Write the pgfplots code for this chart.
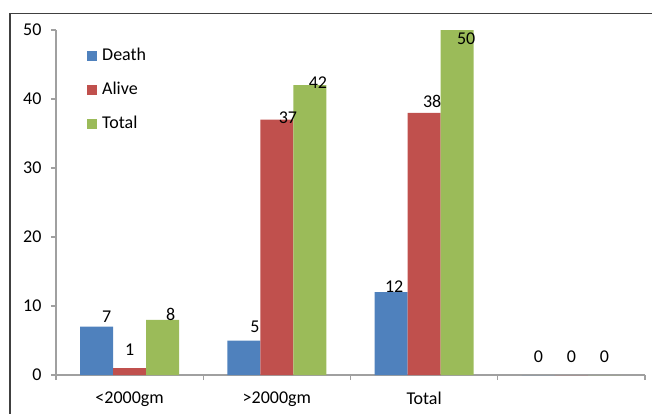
\documentclass[border=0pt]{standalone}
\usepackage{fontspec}
\setmainfont{Carlito}
\usepackage{pgfplots}
\pgfplotsset{compat=1.18}

\definecolor{deathblue}{RGB}{79,129,189}
\definecolor{alivered}{RGB}{192,80,77}
\definecolor{totalgreen}{RGB}{155,187,89}
\definecolor{axisgray}{RGB}{160,160,160}
\definecolor{framegray}{RGB}{64,64,64}
\newcommand{\chartfont}{\fontsize{18bp}{22bp}\selectfont}

% x = category, y = value, dx/dy = label offset in bp
\pgfplotstableread{
x y dx dy
0 7 10 10
1 5 11 14
2 12 3 6
3 0 0 18
}\death
\pgfplotstableread{
x y dx dy
0 1 0 18
1 37 11 2
2 38 8 11
3 0 0 18
}\alive
\pgfplotstableread{
x y dx dy
0 8 8 5
1 42 8 3
2 50 9 -9
3 0 0 18
}\total

\begin{document}
\begin{tikzpicture}
\useasboundingbox (0,0) rectangle (652bp,-414bp);
\draw[framegray, line width=1.2bp] (10bp,-414bp) -- (10bp,-13.5bp) -- (652bp,-13.5bp);
\begin{axis}[
    at={(56bp,-375bp)},
    anchor=south west,
    scale only axis,
    width=589bp,
    height=345bp,
    xmin=-0.5, xmax=3.5,
    ymin=0, ymax=50,
    axis lines*=left,
    axis line style={axisgray, line width=1.3bp},
    tick style={axisgray, line width=1.3bp},
    tick align=outside,
    major tick length=5bp,
    tick label style={font=\chartfont},
    ytick={0,10,...,50},
    xtick={-0.5,0.5,1.5,2.5,3.5},
    xticklabels={<2000gm,>2000gm,Total,{},{}},
    xticklabel style={xshift=73.625bp, yshift=-8bp},
    yticklabel style={xshift=-6bp},
    /pgf/number format/assume math mode=true,
    ybar=0pt,
    bar width=33bp,
    nodes near coords,
    point meta=y,
    visualization depends on={\thisrow{dx} \as \dx},
    visualization depends on={\thisrow{dy} \as \dy},
    every node near coord/.append style={anchor=center, inner sep=0pt,
        font=\chartfont, text=black, xshift=\dx bp, yshift=\dy bp},
    legend cell align=left,
    legend image code/.code={\fill[#1] (0bp,-5bp) rectangle (10bp,5bp);},
    legend style={draw=none, fill=none, at={(rel axis cs:0,1)}, anchor=north west,
        xshift=31bp, yshift=-17bp, inner sep=0pt, row sep=17bp, font=\chartfont,
        nodes={inner sep=0pt, text height=13bp, text depth=4bp},
        /tikz/every odd column/.append style={column sep=5bp}},
]
\addplot[fill=deathblue, draw=none] table[x=x, y=y] {\death};
\addplot[fill=alivered, draw=none] table[x=x, y=y] {\alive};
\addplot[fill=totalgreen, draw=none] table[x=x, y=y] {\total};
\legend{Death,Alive,Total}
\end{axis}
\end{tikzpicture}
\end{document}
